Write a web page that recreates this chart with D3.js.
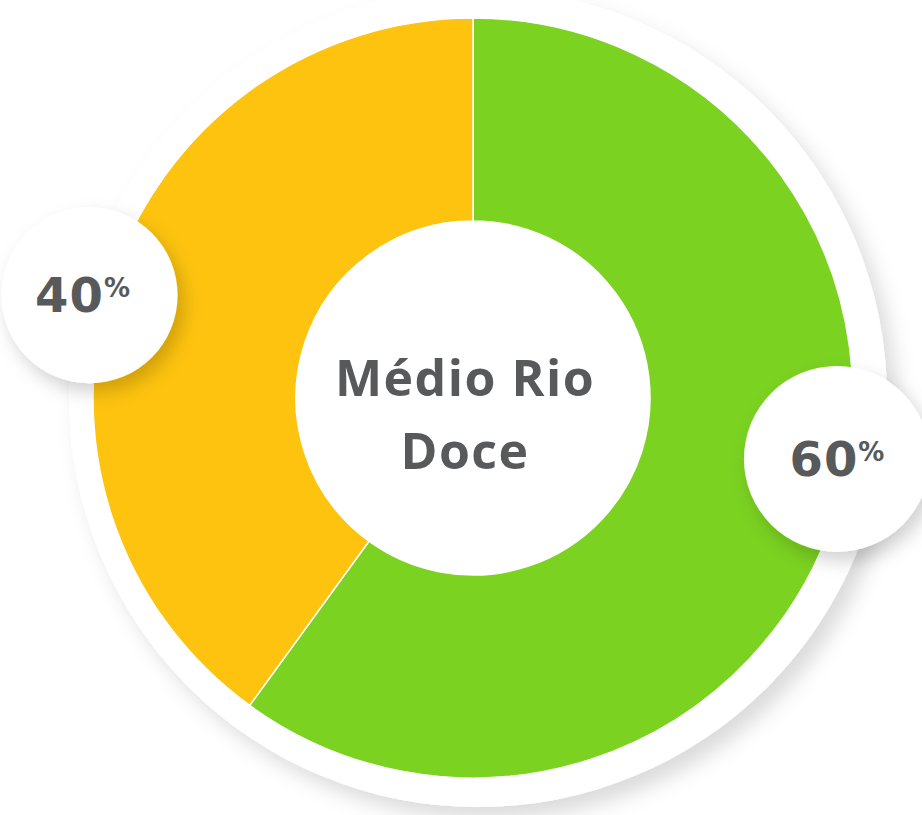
<!DOCTYPE html>
<html>
<head>
<meta charset="utf-8">
<script src="https://cdn.jsdelivr.net/npm/d3@7/dist/d3.min.js"></script>
<style>
  html, body { margin: 0; padding: 0; background: #ffffff; }
  svg { display: block; }
  text { font-family: "Open Sans", "Lato", sans-serif; font-weight: 700; fill: #58595b; }
  .value { font-family: "DejaVu Sans", "Open Sans", sans-serif; font-weight: 700; }
</style>
</head>
<body>
<svg id="chart" width="922" height="815"></svg>
<script>
// Share of the region by category
const regionName = ["Médio", "Rio", "Doce"];
const sliceNames = ["verde", "amarelo"];
const sliceValues = [60, 40];
const sliceColors = ["#7bd221", "#fdc30e"];

const width = 922, height = 815;
const cx = 473, cy = 398;
const outerR = 380, innerR = 177;

const svg = d3.select("#chart");
const defs = svg.append("defs");

const ringShadow = defs.append("filter").attr("id", "ringShadow")
  .attr("x", "-20%").attr("y", "-20%").attr("width", "140%").attr("height", "140%");
ringShadow.append("feDropShadow")
  .attr("dx", 10).attr("dy", 12).attr("stdDeviation", 10)
  .attr("flood-color", "#000").attr("flood-opacity", 0.14);

const bubbleShadow = defs.append("filter").attr("id", "bubbleShadow")
  .attr("x", "-40%").attr("y", "-40%").attr("width", "180%").attr("height", "180%");
bubbleShadow.append("feDropShadow")
  .attr("dx", 6).attr("dy", 9).attr("stdDeviation", 9)
  .attr("flood-color", "#000").attr("flood-opacity", 0.18);

const g = svg.append("g").attr("transform", `translate(${cx},${cy})`);

// white backing disc with soft shadow
g.append("circle")
  .attr("cx", 5).attr("cy", 0).attr("r", 409)
  .attr("fill", "#ffffff")
  .attr("filter", "url(#ringShadow)");

const pie = d3.pie().sort(null).value(d => d)(sliceValues);
const arc = d3.arc().innerRadius(innerR).outerRadius(outerR);

g.selectAll("path.slice")
  .data(pie)
  .join("path")
  .attr("class", "slice")
  .attr("d", arc)
  .attr("fill", (d, i) => sliceColors[i])
  .attr("stroke", "#ffffff")
  .attr("stroke-width", 1.5);

// centre title
const title = g.append("text")
  .attr("text-anchor", "middle")
  .style("font-size", "50px")
  .style("letter-spacing", "1.5px");
title.append("tspan").attr("x", -8).attr("y", -2).text(regionName[0] + " " + regionName[1]);
title.append("tspan").attr("x", -8).attr("y", 71).text(regionName[2]);

// value bubbles
const bubbleLayout = [
  { radius: 369, angleShift: -8.5, r: 93, textDx: 0 },
  { radius: 397, angleShift: -3, r: 88, textDx: -7 }
];

const bubbles = g.selectAll("g.bubble")
  .data(pie)
  .join("g")
  .attr("class", "bubble")
  .attr("transform", (d, i) => {
    const L = bubbleLayout[i];
    const a = (d.startAngle + d.endAngle) / 2 + L.angleShift * Math.PI / 180;
    return `translate(${L.radius * Math.sin(a)},${-L.radius * Math.cos(a)})`;
  });

bubbles.append("circle")
  .attr("r", (d, i) => bubbleLayout[i].r)
  .attr("fill", "#ffffff")
  .attr("filter", "url(#bubbleShadow)");

const label = bubbles.append("text")
  .attr("class", "value")
  .attr("text-anchor", "middle")
  .attr("x", (d, i) => bubbleLayout[i].textDx)
  .attr("y", 17);
label.append("tspan").style("font-size", "48px").style("letter-spacing", "1px").text(d => d.value);
label.append("tspan").style("font-size", "26px").attr("dy", -15).text("%");
</script>
</body>
</html>
